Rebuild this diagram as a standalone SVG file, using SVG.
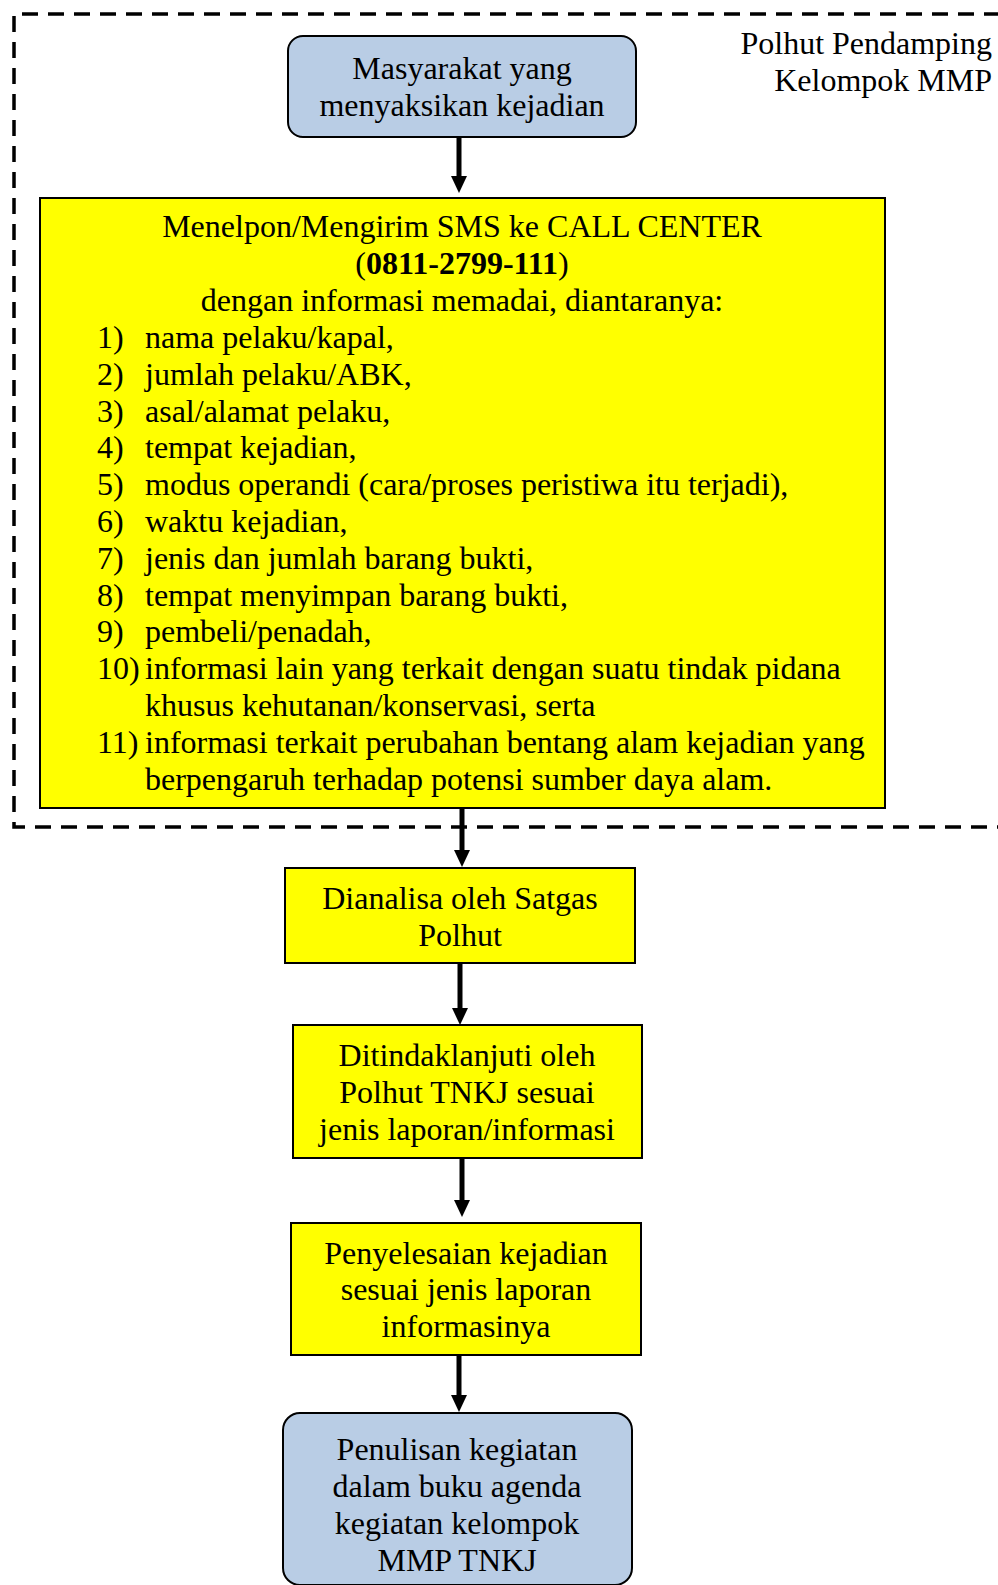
<svg xmlns="http://www.w3.org/2000/svg" width="998" height="1585" viewBox="0 0 998 1585">
  <style>
    text { font-family: "Liberation Serif", "Times New Roman", serif; font-size: 32px; fill: #000; }
    .c { text-anchor: middle; }
    .r { text-anchor: end; }
    .blue { fill: #B9CDE5; stroke: #000; stroke-width: 2; }
    .yellow { fill: #FFFF00; stroke: #000; stroke-width: 2; }
    .frame { fill: none; stroke: #000; stroke-width: 3.5; stroke-dasharray: 16 10; }
    .flow { stroke: #000; stroke-width: 5; fill: none; }
  </style>

  <!-- group boundary: Polhut Pendamping Kelompok MMP -->
  <g id="frame">
    <path class="frame" d="M1000 14 H14 V827 H1000"/>
    <text class="r" x="992" y="54">Polhut Pendamping</text>
    <text class="r" x="992" y="91">Kelompok MMP</text>
  </g>

  <!-- connectors: shaft + triangular head -->
  <g id="connectors">
    <line class="flow" x1="459" y1="137" x2="459" y2="176"/>
    <path d="M451 176 L467 176 L459 193 Z"/>
    <line class="flow" x1="462" y1="808" x2="462" y2="850"/>
    <path d="M454 850 L470 850 L462 867 Z"/>
    <line class="flow" x1="460" y1="963" x2="460" y2="1008"/>
    <path d="M452 1008 L468 1008 L460 1025 Z"/>
    <line class="flow" x1="462" y1="1158" x2="462" y2="1200"/>
    <path d="M454 1200 L470 1200 L462 1217 Z"/>
    <line class="flow" x1="459" y1="1350" x2="459" y2="1395"/>
    <path d="M451 1395 L467 1395 L459 1412 Z"/>
  </g>

  <g id="node-masyarakat">
    <rect class="blue" x="288" y="36" width="348" height="101" rx="15"/>
    <text class="c" x="462" y="79">Masyarakat yang</text>
    <text class="c" x="462" y="116">menyaksikan kejadian</text>
  </g>

  <g id="node-callcenter">
    <rect class="yellow" x="40" y="198" width="845" height="610"/>
    <text class="c" x="462" y="237">Menelpon/Mengirim SMS ke CALL CENTER</text>
    <text class="c" x="462" y="274">(<tspan font-weight="bold">0811-2799-111</tspan>)</text>
    <text class="c" x="462" y="311">dengan informasi memadai, diantaranya:</text>
    <text x="97" y="348">1)</text><text x="145" y="348">nama pelaku/kapal,</text>
    <text x="97" y="385">2)</text><text x="145" y="385">jumlah pelaku/ABK,</text>
    <text x="97" y="421.6">3)</text><text x="145" y="421.6">asal/alamat pelaku,</text>
    <text x="97" y="458.4">4)</text><text x="145" y="458.4">tempat kejadian,</text>
    <text x="97" y="495.2">5)</text><text x="145" y="495.2">modus operandi (cara/proses peristiwa itu terjadi),</text>
    <text x="97" y="532">6)</text><text x="145" y="532">waktu kejadian,</text>
    <text x="97" y="568.8">7)</text><text x="145" y="568.8">jenis dan jumlah barang bukti,</text>
    <text x="97" y="605.6">8)</text><text x="145" y="605.6">tempat menyimpan barang bukti,</text>
    <text x="97" y="642.4">9)</text><text x="145" y="642.4">pembeli/penadah,</text>
    <text x="97" y="679.2">10)</text><text x="145" y="679.2">informasi lain yang terkait dengan suatu tindak pidana</text>
    <text x="145" y="716">khusus kehutanan/konservasi, serta</text>
    <text x="97" y="752.8">11)</text><text x="145" y="752.8">informasi terkait perubahan bentang alam kejadian yang</text>
    <text x="145" y="789.6">berpengaruh terhadap potensi sumber daya alam.</text>
  </g>

  <g id="node-dianalisa">
    <rect class="yellow" x="285" y="868" width="350" height="95"/>
    <text class="c" x="460" y="909">Dianalisa oleh Satgas</text>
    <text class="c" x="460" y="946">Polhut</text>
  </g>

  <g id="node-ditindaklanjuti">
    <rect class="yellow" x="293" y="1025" width="349" height="133"/>
    <text class="c" x="467" y="1066">Ditindaklanjuti oleh</text>
    <text class="c" x="467" y="1103">Polhut TNKJ sesuai</text>
    <text class="c" x="467" y="1139.5">jenis laporan/informasi</text>
  </g>

  <g id="node-penyelesaian">
    <rect class="yellow" x="291" y="1223" width="350" height="132"/>
    <text class="c" x="466" y="1263.5">Penyelesaian kejadian</text>
    <text class="c" x="466" y="1300">sesuai jenis laporan</text>
    <text class="c" x="466" y="1337">informasinya</text>
  </g>

  <g id="node-penulisan">
    <rect class="blue" x="283" y="1413" width="349" height="172" rx="17"/>
    <text class="c" x="457" y="1460">Penulisan kegiatan</text>
    <text class="c" x="457" y="1497">dalam buku agenda</text>
    <text class="c" x="457" y="1534">kegiatan kelompok</text>
    <text class="c" x="457" y="1571">MMP TNKJ</text>
  </g>
</svg>
